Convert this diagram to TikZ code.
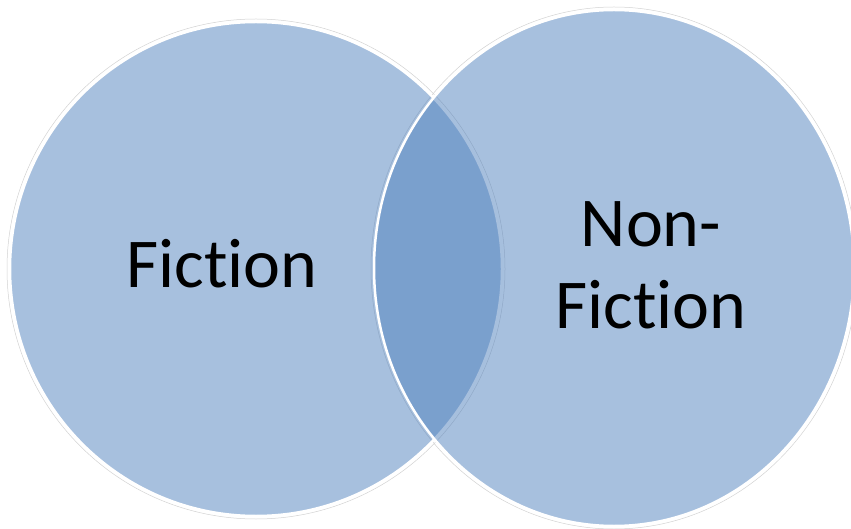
\documentclass[tikz,border=0pt]{standalone}
\usepackage{fontspec}
\setmainfont{Carlito}[Ligatures = NoCommon]

\definecolor{setblue}{RGB}{79,129,189}

\tikzset{
    setfill/.style = {fill = setblue, fill opacity = 0.5, draw = white, line width = 2.5pt},
    setglow/.style = {draw = gray!35, line width = 0.5pt},
    setlabel/.style = {font = \fontsize{70}{82}\selectfont, align = center, text = black}
}

\begin{document}
\begin{tikzpicture}[x = 1pt, y = -1pt]
        \useasboundingbox (0, 0) rectangle (851, 529);

        \coordinate (fic) at (256, 269);
        \coordinate (nonfic) at (614, 268);

        \draw [setglow] (fic) ellipse [x radius = 249pt, y radius = 250pt];
        \draw [setglow] (nonfic) ellipse [x radius = 243pt, y radius = 261pt];

        \draw [setfill] (fic) ellipse [x radius = 246pt, y radius = 247pt];
        \draw [setfill] (nonfic) ellipse [x radius = 240pt, y radius = 258pt];

        \node [setlabel] (ficlabel) at (222, 264) {Fiction};
        \node [setlabel] (nonficlabel) at (651, 265) {Non-\\Fiction};
    \end{tikzpicture}
\end{document}
